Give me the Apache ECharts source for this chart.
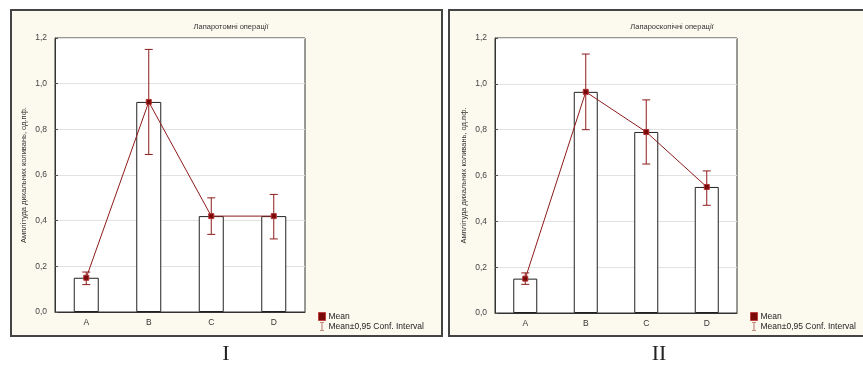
<!DOCTYPE html>
<html>
<head>
<meta charset="utf-8">
<script src="https://cdn.jsdelivr.net/npm/echarts@6/dist/echarts.min.js"></script>
<style>
  html, body { margin: 0; padding: 0; background: #fff; }
  #chart { width: 863px; height: 367px; }
</style>
</head>
<body>
<div id="chart"></div>
<script>
var categories = ['A', 'B', 'C', 'D']

// Лапаротомні операції
var lapMean = [0.15, 0.92, 0.42, 0.42]
var lapLow = [0.12, 0.69, 0.34, 0.32]
var lapHigh = [0.175, 1.15, 0.50, 0.515]

// Лапароскопічні операції
var lpsMean = [0.15, 0.965, 0.79, 0.55]
var lpsLow = [0.125, 0.80, 0.65, 0.47]
var lpsHigh = [0.175, 1.13, 0.93, 0.62]

var titles = ['Лапаротомні операції', 'Лапароскопічні операції']
var yName = 'Амплітуда дихальних коливань, од.пф.'
var meanName = 'Mean'
var ciName = 'Mean±0,95 Conf. Interval'

var red = '#8e1b1b'
var font = 'Liberation Sans, Arial, sans-serif'

var chart = echarts.init(document.getElementById('chart'))

function fmt(v) {
  return v.toFixed(1).replace('.', ',')
}

function errorData(low, high) {
  return categories.map(function(c, i) {
    return [i, low[i], high[i]]
  })
}

function renderError(params, api) {
  var x = api.value(0)
  var lo = api.coord([x, api.value(1)])
  var hi = api.coord([x, api.value(2)])
  var w = 4
  var style = { stroke: red, lineWidth: 1 }
  return {
    type: 'group',
    children: [
      { type: 'line', shape: { x1: lo[0], y1: lo[1], x2: hi[0], y2: hi[1] }, style: style },
      { type: 'line', shape: { x1: lo[0] - w, y1: lo[1], x2: lo[0] + w, y2: lo[1] }, style: style },
      { type: 'line', shape: { x1: hi[0] - w, y1: hi[1], x2: hi[0] + w, y2: hi[1] }, style: style }
    ]
  }
}

var grids = [
  { left: 55, top: 38, width: 250, height: 274 },
  { left: 495, top: 38, width: 242, height: 275 }
]

function xAxis(idx) {
  return {
    type: 'category',
    gridIndex: idx,
    data: categories,
    axisLine: { lineStyle: { color: '#333' } },
    axisTick: { show: true, alignWithLabel: true, inside: true, length: 3, lineStyle: { color: '#555' } },
    axisLabel: { color: '#333', fontSize: 8.5, fontFamily: font, margin: 6 },
    splitLine: { show: false }
  }
}

function yAxis(idx) {
  return {
    type: 'value',
    gridIndex: idx,
    min: 0,
    max: 1.2,
    interval: 0.2,
    name: yName,
    nameLocation: 'middle',
    nameGap: 27,
    nameTextStyle: { color: '#333', fontSize: 7.5, fontFamily: font },
    axisLine: { show: true, lineStyle: { color: '#333' } },
    axisTick: { show: true, inside: true, length: 3, lineStyle: { color: '#555' } },
    axisLabel: { color: '#444', fontSize: 8.5, fontFamily: font, margin: 8, formatter: fmt },
    splitLine: { show: true, lineStyle: { color: '#e2e2e2', width: 1 } }
  }
}

function seriesFor(idx, mean, low, high, bw) {
  return [
    {
      type: 'bar',
      name: 'bars' + idx,
      xAxisIndex: idx,
      yAxisIndex: idx,
      data: mean,
      barWidth: bw,
      itemStyle: { color: '#fff', borderColor: '#222', borderWidth: 1 },
      silent: true,
      z: 2
    },
    {
      type: 'custom',
      name: ciName,
      xAxisIndex: idx,
      yAxisIndex: idx,
      data: errorData(low, high),
      renderItem: renderError,
      itemStyle: { color: red },
      z: 3
    },
    {
      type: 'line',
      name: meanName,
      xAxisIndex: idx,
      yAxisIndex: idx,
      data: mean,
      symbol: 'rect',
      symbolSize: 5,
      lineStyle: { color: red, width: 1 },
      itemStyle: { color: '#7a0a0a', borderColor: '#b03030', borderWidth: 1 },
      z: 4
    }
  ]
}

var ciIcon = 'path://M0,0h10v1.5h-4.25v17h4.25v1.5h-10v-1.5h4.25v-17h-4.25z'

function legend(left) {
  return {
    left: left,
    top: 307,
    orient: 'vertical',
    itemWidth: 7,
    itemHeight: 8,
    itemGap: 1,
    selectedMode: false,
    textStyle: { color: '#222', fontSize: 8.5, fontFamily: font, padding: [0, 0, 0, -2] },
    data: [
      { name: meanName, icon: 'rect', itemStyle: { color: '#7a0a0a', borderColor: '#c04040', borderWidth: 1 } },
      { name: ciName, icon: ciIcon, itemStyle: { color: red } }
    ]
  }
}

chart.setOption({
  animation: false,
  backgroundColor: '#fff',
  graphic: [
    { type: 'rect', shape: { x: 11, y: 10, width: 431, height: 326 }, style: { fill: '#fcfaef', stroke: '#444', lineWidth: 2 }, z: -10 },
    { type: 'rect', shape: { x: 449, y: 10, width: 432, height: 326 }, style: { fill: '#fcfaef', stroke: '#444', lineWidth: 2 }, z: -10 },
    { type: 'rect', shape: { x: 55, y: 38, width: 250, height: 274 }, style: { fill: '#fff' }, z: -9 },
    { type: 'rect', shape: { x: 495, y: 38, width: 242, height: 275 }, style: { fill: '#fff' }, z: -9 },
    { type: 'text', x: 226, y: 343, style: { text: 'I', font: '22px "Liberation Serif", "DejaVu Serif", serif', fill: '#222', textAlign: 'center' } },
    { type: 'text', x: 659, y: 343, style: { text: 'II', font: '22px "Liberation Serif", "DejaVu Serif", serif', fill: '#222', textAlign: 'center' } }
  ],
  title: [
    { text: titles[0], left: 226, top: 18, textAlign: 'center', textStyle: { fontSize: 7.5, fontWeight: 'normal', color: '#333', fontFamily: font } },
    { text: titles[1], left: 667, top: 18, textAlign: 'center', textStyle: { fontSize: 7.5, fontWeight: 'normal', color: '#333', fontFamily: font } }
  ],
  legend: [legend(313), legend(745)],
  grid: grids.map(function(g) {
    return { left: g.left, top: g.top, width: g.width, height: g.height, show: true, borderColor: '#333', borderWidth: 1, containLabel: false }
  }),
  xAxis: [xAxis(0), xAxis(1)],
  yAxis: [yAxis(0), yAxis(1)],
  series: seriesFor(0, lapMean, lapLow, lapHigh, 25).concat(seriesFor(1, lpsMean, lpsLow, lpsHigh, 24))
})
</script>
</body>
</html>
